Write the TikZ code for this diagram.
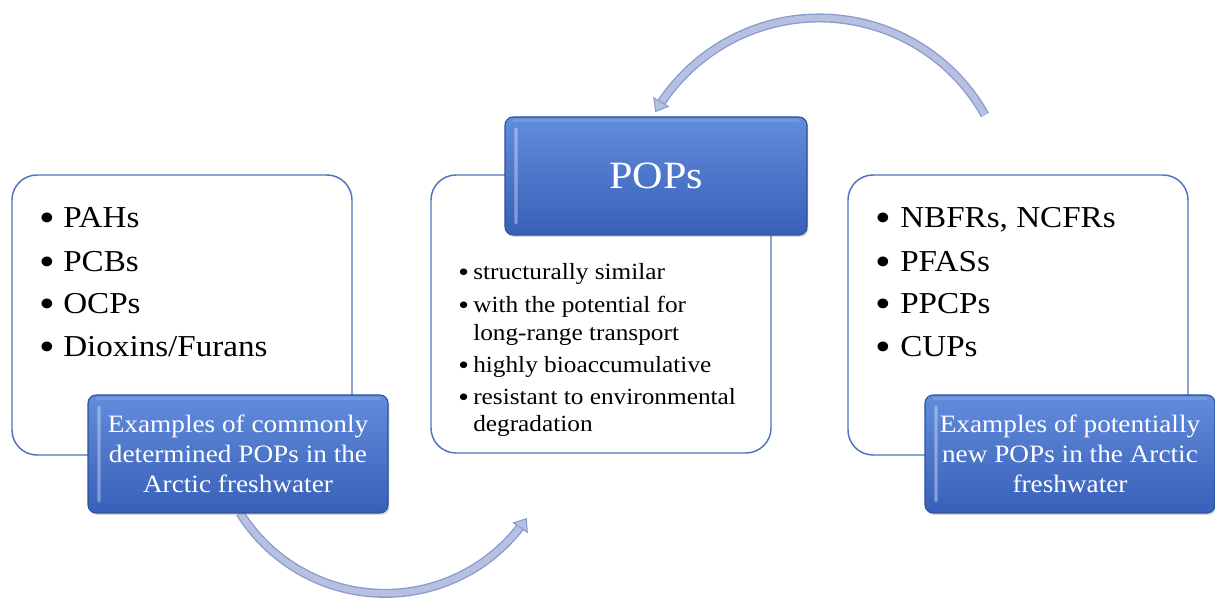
\documentclass[tikz,border=0pt]{standalone}
\usepackage{fontspec}
\setmainfont{Liberation Serif}[FakeStretch=1.09]
\usetikzlibrary{arrows.meta,decorations.markings,shadows}
\definecolor{boxline}{RGB}{79,113,190}
\definecolor{bluetop}{RGB}{98,140,220}
\definecolor{bluemid}{RGB}{68,114,202}
\definecolor{bluebot}{RGB}{56,96,184}
\definecolor{blueedge}{RGB}{45,80,155}
\definecolor{arrlight}{RGB}{182,193,226}
\definecolor{arrdark}{RGB}{138,154,205}
\newcommand\bigbul{\hspace*{-2pt}\raisebox{-0.12em}{\scalebox{1.35}{\textbullet}}}
\newcommand\smbul{\hspace*{-1.5pt}\raisebox{-0.07em}{\scalebox{1.2}{\textbullet}}}
\begin{document}
\begin{tikzpicture}[x=0.75pt,y=-0.75pt,
  whitebox/.style={draw=boxline, line width=1.1pt, rounded corners=18.75pt, fill=white, inner sep=0pt, outer sep=0pt, anchor=north west},
  bluebox/.style={draw=blueedge, line width=0.8pt, rounded corners=6pt, top color=bluetop, middle color=bluemid, bottom color=bluebot,
    drop shadow={opacity=0.3, shadow xshift=1pt, shadow yshift=-1.5pt},
    inner sep=0pt, outer sep=0pt, anchor=north west, text=white, align=center},
  bigitem/.style={anchor=base west, inner sep=0pt, font=\fontsize{22.8}{26}\selectfont},
  smallitem/.style={anchor=base west, inner sep=0pt, font=\fontsize{17.4}{20}\selectfont},
  arrshaft/.style={line width=9pt*0.75, draw=arrdark},
  arrcore/.style={line width=6.3pt*0.75, draw=arrlight},
  arrhead/.style={postaction={decorate}, decoration={markings, mark=at position 1 with {\arrow[arrdark, line width=0.8pt]{Triangle[length=9pt, width=14pt, fill=arrlight]}}}}
]
\path[use as bounding box] (0,0) rectangle (1215,598);

% white boxes
\node[whitebox, minimum width=255pt, minimum height=210pt] (wl) at (12,175) {};
\node[whitebox, minimum width=255pt, minimum height=208.5pt] (wm) at (431,175) {};
\node[whitebox, minimum width=255pt, minimum height=210pt] (wr) at (848,175) {};

% arrows
\coordinate (bs) at (240,513);
\coordinate (ts) at (985,115);
\draw[arrshaft] (bs) arc[start angle=148, end angle=37.5, radius=171];
\draw[arrcore] (bs) arc[start angle=148, end angle=37.5, radius=171];
\path[arrhead] (bs) arc[start angle=148, end angle=34, radius=171];

\draw[arrshaft] (ts) arc[start angle=-29.3, end angle=-146.5, radius=190];
\draw[arrcore] (ts) arc[start angle=-29.3, end angle=-146.5, radius=190];
\path[arrhead] (ts) arc[start angle=-29.3, end angle=-149.7, radius=190];

% blue boxes
\node[bluebox, minimum width=225pt, minimum height=88.5pt, font=\fontsize{18.75}{22.5}\selectfont] (bl) at (88,395)
  {Examples of commonly\\determined POPs in the\\Arctic freshwater};
\node[bluebox, minimum width=226.5pt, minimum height=88.5pt, font=\fontsize{29}{34}\selectfont] (bp) at (505,117) {POPs};
\node[bluebox, minimum width=217.5pt, minimum height=88.5pt, font=\fontsize{18.75}{22.5}\selectfont] (br) at (925,395)
  {Examples of potentially\\new POPs in the Arctic\\freshwater};

% bevel highlights
\foreach \b in {bl,bp,br}{
  \fill[white, opacity=0.35, rounded corners=1pt] ([xshift=7pt,yshift=-8pt]\b.north west) rectangle ([xshift=9.5pt,yshift=8pt]\b.south west);
  \fill[white, opacity=0.12] ([xshift=6pt,yshift=-1.2pt]\b.north west) rectangle ([xshift=-6pt,yshift=-4pt]\b.north east);
}

% left list
\node[bigitem] (l1) at (42,228) {\makebox[15.75pt][l]{\bigbul}PAHs};
\node[bigitem] (l2) at (42,272) {\makebox[15.75pt][l]{\bigbul}PCBs};
\node[bigitem] (l3) at (42,314) {\makebox[15.75pt][l]{\bigbul}OCPs};
\node[bigitem] (l4) at (42,357) {\makebox[15.75pt][l]{\bigbul}Dioxins/Furans};

% middle list
\node[smallitem] (m1) at (460,280) {\makebox[9.75pt][l]{\smbul}structurally similar};
\node[smallitem] (m2) at (460,313) {\makebox[9.75pt][l]{\smbul}with the potential for};
\node[smallitem] (m3) at (473,341) {long-range transport};
\node[smallitem] (m4) at (460,373) {\makebox[9.75pt][l]{\smbul}highly bioaccumulative};
\node[smallitem] (m5) at (460,405) {\makebox[9.75pt][l]{\smbul}resistant to environmental};
\node[smallitem] (m6) at (473,432) {degradation};

% right list
\node[bigitem] (r1) at (878,228) {\makebox[16.5pt][l]{\bigbul}NBFRs, NCFRs};
\node[bigitem] (r2) at (878,272) {\makebox[16.5pt][l]{\bigbul}PFASs};
\node[bigitem] (r3) at (878,314) {\makebox[16.5pt][l]{\bigbul}PPCPs};
\node[bigitem] (r4) at (878,357) {\makebox[16.5pt][l]{\bigbul}CUPs};
\end{tikzpicture}
\end{document}
